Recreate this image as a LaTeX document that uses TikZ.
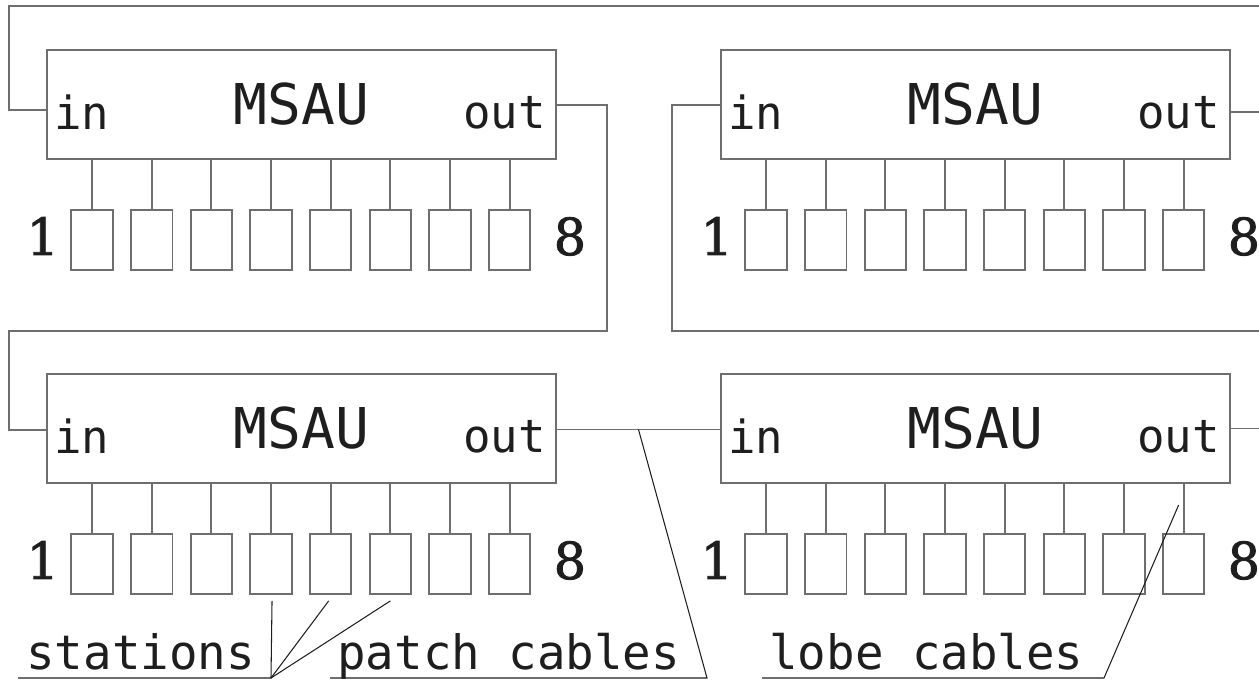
\documentclass[tikz,border=0pt]{standalone}
\usepackage{fontspec}
\setmonofont{DejaVu Sans Mono}
\newfontfamily\digitfont[FakeBold=1.6]{DejaVu Serif}
\usetikzlibrary{calc,positioning}
\definecolor{RingGray}{HTML}{6E6E6E}
\definecolor{RingInk}{HTML}{1E1E1E}

\begin{document}
\begin{tikzpicture}[
    x=0.02cm,y=-0.02cm,
    msau/.style={draw=RingGray,line width=1.1pt,minimum width=10.18cm,minimum height=2.18cm,inner sep=0pt,font=\ttfamily\fontsize{32}{32}\selectfont,text=RingInk},
    port/.style={draw=RingGray,line width=1.1pt,minimum width=0.83cm,minimum height=1.2cm,inner sep=0pt},
    cable/.style={draw=RingGray,line width=1.1pt},
    leader/.style={draw=RingInk,line width=0.6pt},
    tag/.style={font=\ttfamily\fontsize{26}{26}\selectfont,text=RingInk,inner sep=0pt},
    note/.style={font=\ttfamily\fontsize{27}{27}\selectfont,text=RingInk,inner sep=0pt},
    num/.style={font=\digitfont\fontsize{29}{29}\selectfont,text=RingInk,inner sep=0pt}
  ]
  \useasboundingbox (0,0) rectangle (1259,680);
  \clip (0,0) rectangle (1259,680);
  \node[msau] (tl) at (301.5,104.5) {MSAU};
  \node[msau] (tr) at (975.5,104.5) {MSAU};
  \node[msau] (bl) at (301.5,428.5) {MSAU};
  \node[msau] (br) at (975.5,428.5) {MSAU};
  \foreach \b in {tl,tr,bl,br}{
    \node[tag,anchor=base west] (\b-inlbl) at ($(\b.west)+(8,25)$) {in};
    \node[tag,anchor=base east] (\b-outlbl) at ($(\b.east)+(-11,24)$) {out};
    \foreach \i in {1,...,8}{
      \node[port] (\b-p\i) at ($(\b.south west)+({46+59.65*(\i-1)},80)$) {};
      \draw[cable] (\b-p\i.north) -- (\b-p\i.north |- \b.south);
    }
    \node[num,anchor=base east] (\b-one) at ($(\b-p1.west)+(-11,15)$) {1};
    \node[num,anchor=base west] (\b-eight) at ($(\b-p8.east)+(22,15)$) {8};
  }
  \coordinate (tl-in) at ($(tl.west)+(0,5.5)$);
  \coordinate (tl-out) at ($(tl.east)+(0,0.5)$);
  \coordinate (tr-in) at ($(tr.west)+(0,0.5)$);
  \coordinate (tr-out) at ($(tr.east)+(0,7.5)$);
  \coordinate (bl-in) at ($(bl.west)+(0,1.5)$);
  \coordinate (bl-out) at ($(bl.east)+(0,1)$);
  \coordinate (br-in) at ($(br.west)+(0,1)$);
  \coordinate (br-out) at (br.east);
  \coordinate (ring-top) at (1262,6);
  \coordinate (ring-mid) at (1262,331);
  \coordinate (ring-tr) at (1262,112);
  \coordinate (ring-br) at (1262,428.5);
  \draw[cable] (ring-top) -| (9,110) -- (tl-in);
  \draw[cable] (tl-out) -| (607,331) -| (9,430) -- (bl-in);
  \draw[cable] (tr-in) -| (672,331) -- (ring-mid);
  \draw[cable] (tr-out) -- (ring-tr);
  \draw[cable] (bl-out) -- (br-in);
  \draw[cable] (br-out) -- (ring-br);
  \node[note,anchor=base west] (stations) at (26,669) {stations};
  \node[note,anchor=base west] (patch) at (337,669) {patch cables};
  \node[note,anchor=base west] (lobe) at (769,669) {lobe cables};
  \coordinate (st-a) at (18,678);
  \coordinate (st-b) at (271,678);
  \coordinate (pc-a) at (330,678);
  \coordinate (pc-b) at (707,678);
  \coordinate (lc-a) at (762,678);
  \coordinate (lc-b) at (1104,678);
  \coordinate (pc-tip) at ($(bl-out)!0.5!(br-in)$);
  \coordinate (lc-tip) at ($(br-p8.north)+(-5,-28)$);
  \draw[leader] (st-a) -- (st-b) -- ($(bl-p4.south)+(1,6)$);
  \draw[leader] (st-b) -- ($(bl-p5.south)+(-2,6)$);
  \draw[leader] (st-b) -- ($(bl-p6.south)+(0,6)$);
  \draw[leader] (pc-a) -- (pc-b) -- (pc-tip);
  \draw[leader] (lc-a) -- (lc-b) -- (lc-tip);
\end{tikzpicture}
\end{document}
